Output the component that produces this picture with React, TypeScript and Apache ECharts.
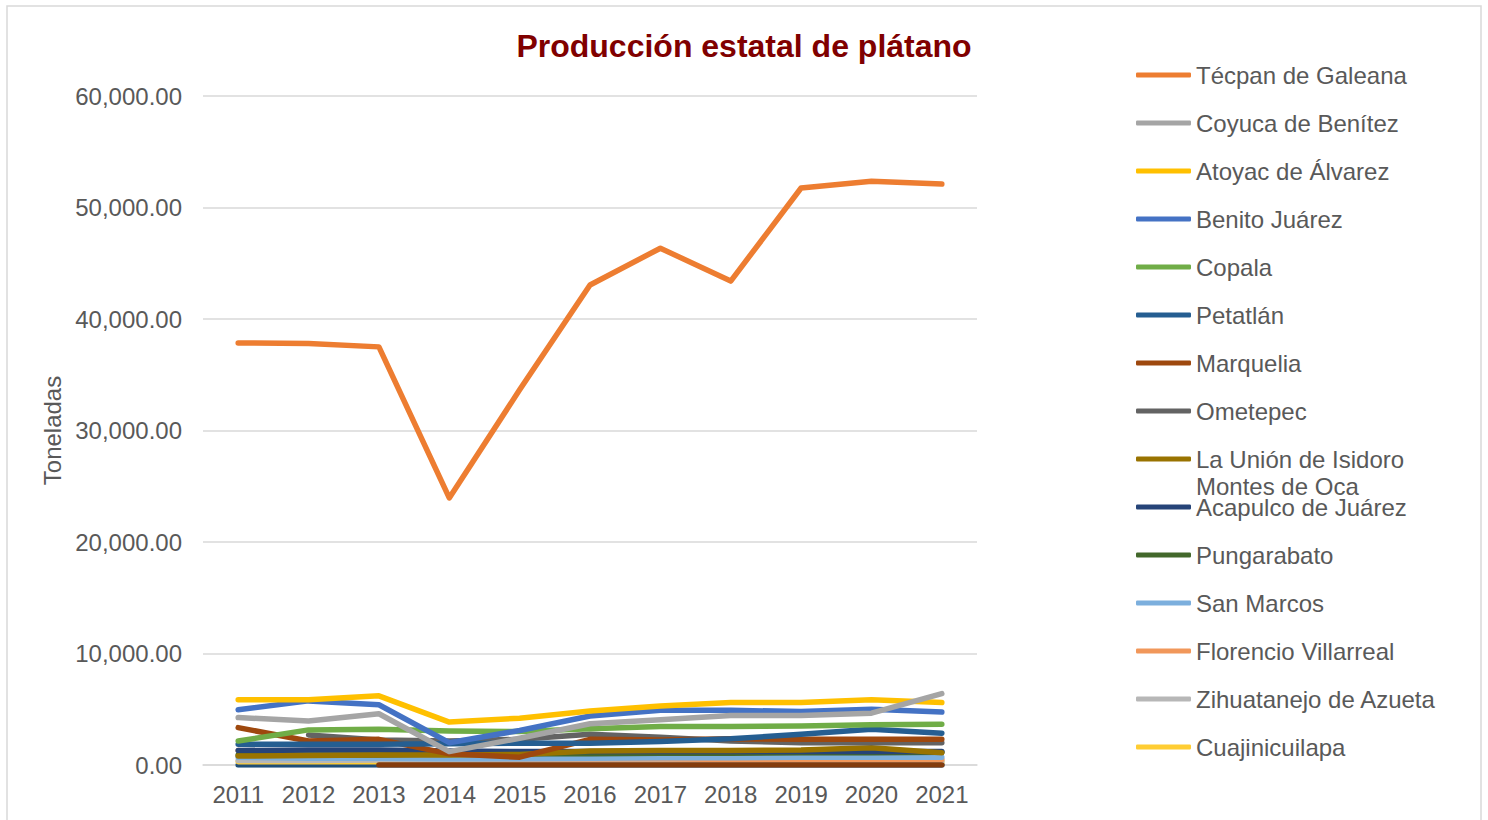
import React, { useEffect, useRef } from "react";
import * as echarts from "echarts";

const years = ["2011", "2012", "2013", "2014", "2015", "2016", "2017", "2018", "2019", "2020", "2021"];

const tecpan = [37850, 37800, 37500, 23950, 33650, 43050, 46350, 43400, 51750, 52350, 52100];
const coyuca = [4250, 3950, 4600, 1200, 2400, 3700, 4050, 4450, 4450, 4650, 6400];
const atoyac = [5850, 5850, 6200, 3850, 4200, 4850, 5300, 5600, 5600, 5850, 5600];
const benito = [4950, 5750, 5400, 2000, 3100, 4400, 4900, 4900, 4800, 5000, 4750];
const copala = [2150, 3150, 3200, 3050, 3000, 3250, 3450, 3450, 3500, 3600, 3650];
const petatlan = [1850, 1850, 1850, 1900, 1950, 1950, 2100, 2350, 2750, 3200, 2850];
const marquelia = [3350, 2150, 2300, 1000, 700, 2300, 2250, 2350, 2300, 2300, 2300];
const ometepec = [null, 2700, 2250, 2150, 2300, 2750, 2500, 2150, 2000, 2000, 2000];
const laUnion = [800, 850, 900, 900, 950, 1250, 1300, 1300, 1350, 1550, 1100];
const acapulco = [1300, 1350, 1350, 1250, 1200, 1200, 1200, 1200, 1200, 1200, 1200];
const pungarabato = [900, 900, 900, 1000, 1000, 1000, 1050, 1050, 1100, 1100, 1150];
const sanMarcos = [700, 600, 600, 550, 550, 600, 650, 650, 700, 700, 700];
const florencio = [1300, 800, 650, 600, 550, 550, 550, 500, 500, 500, 500];
const zihuatanejo = [400, 400, 450, 400, 400, 400, 400, 350, 350, 350, 350];
const cuaji = [300, 300, 300, 300, 300, 250, 250, 250, 250, 250, 250];
const zeroA = [0, 0, 0, 0, 0, 0, 0, 0, 0, 0, 0];
const zeroB = [null, null, 0, 0, 0, 0, 0, 0, 0, 0, 0];

const names = [
  "Técpan de Galeana",
  "Coyuca de Benítez",
  "Atoyac de Álvarez",
  "Benito Juárez",
  "Copala",
  "Petatlán",
  "Marquelia",
  "Ometepec",
  "La Unión de Isidoro Montes de Oca",
  "Acapulco de Juárez",
  "Pungarabato",
  "San Marcos",
  "Florencio Villarreal",
  "Zihuatanejo de Azueta",
  "Cuajinicuilapa",
];
const values = [tecpan, coyuca, atoyac, benito, copala, petatlan, marquelia, ometepec, laUnion, acapulco, pungarabato, sanMarcos, florencio, zihuatanejo, cuaji];
const colors = [
  "#ED7D31", "#A5A5A5", "#FFC000", "#4472C4", "#70AD47", "#255E91", "#9E480E", "#636363",
  "#997300", "#264478", "#43682B", "#7CAFDD", "#F1975A", "#B7B7B7", "#FFCD33",
];

const FONT = "Liberation Sans, Arial, sans-serif";

export default function App() {
  const ref = useRef<HTMLDivElement>(null);
  useEffect(() => {
    if (!ref.current) return;
    const chart = echarts.init(ref.current, null, { renderer: "svg" });
    const order = [14, 13, 12, 11, 10, 9, 8, 7, 6, 5, 4, 3, 2, 1, 0];
    const series: any[] = [];
    series.push({
      type: "line",
      data: zeroA,
      symbol: "none",
      lineStyle: { width: 5.5, color: "#1F4E79", cap: "round", join: "round" },
      itemStyle: { color: "#1F4E79" },
      silent: true,
    });
    order.forEach((i) => {
      series.push({
        name: names[i],
        type: "line",
        data: values[i],
        symbol: "none",
        connectNulls: false,
        lineStyle: { width: 5.5, color: colors[i], cap: "round", join: "round" },
        itemStyle: { color: colors[i] },
      });
    });
    series.push({
      type: "line",
      data: zeroB,
      symbol: "none",
      lineStyle: { width: 5.5, color: "#843C0C", cap: "round", join: "round" },
      itemStyle: { color: "#843C0C" },
      silent: true,
    });
    const legends = names.map((n, i) => ({
      data: [n],
      left: 1131,
      top: 58 + 48 * i,
      icon: "roundRect",
      itemWidth: 55,
      itemHeight: 5,
      selectedMode: false,
      formatter: (name: string) => (name === "La Unión de Isidoro Montes de Oca" ? "La Unión de Isidoro" : name),
      textStyle: { fontSize: 24, color: "#595959", fontFamily: FONT },
    }));
    chart.setOption({
      animation: false,
      title: {
        text: "Producción estatal de plátano",
        left: "center",
        top: 25,
        textStyle: { fontSize: 32, fontWeight: "bold", color: "#800000", fontFamily: FONT },
      },
      legend: legends,
      grid: { left: 203, right: 511, top: 96, bottom: 55 },
      xAxis: {
        type: "category",
        data: years,
        boundaryGap: true,
        axisLine: { show: true, lineStyle: { color: "#D9D9D9", width: 1.5 } },
        axisTick: { show: false },
        axisLabel: { fontSize: 24, color: "#595959", fontFamily: FONT, margin: 17 },
      },
      yAxis: {
        type: "value",
        min: 0,
        max: 60000,
        interval: 10000,
        name: "Toneladas",
        nameLocation: "middle",
        nameRotate: 90,
        nameGap: 136,
        nameTextStyle: { fontSize: 24, color: "#595959", fontFamily: FONT },
        axisLine: { show: false },
        axisTick: { show: false },
        splitLine: { lineStyle: { color: "#D9D9D9", width: 1.5 } },
        axisLabel: {
          fontSize: 24,
          color: "#595959",
          fontFamily: FONT,
          margin: 21,
          formatter: (v: number) => v.toLocaleString("en-US", { minimumFractionDigits: 2, maximumFractionDigits: 2 }),
        },
      },
      graphic: [
        {
          type: "rect",
          shape: { x: 7, y: 6, width: 1474, height: 840 },
          style: { fill: "none", stroke: "#D9D9D9", lineWidth: 1.5 },
          silent: true,
        },
        {
          type: "text",
          left: 1196,
          top: 474,
          style: { text: "Montes de Oca", fontSize: 24, fill: "#595959", fontFamily: FONT },
          silent: true,
        },
      ],
      series,
    });
    return () => chart.dispose();
  }, []);
  return <div ref={ref} style={{ position: "absolute", left: 0, top: 0, width: 1488, height: 820 }} />;
}
